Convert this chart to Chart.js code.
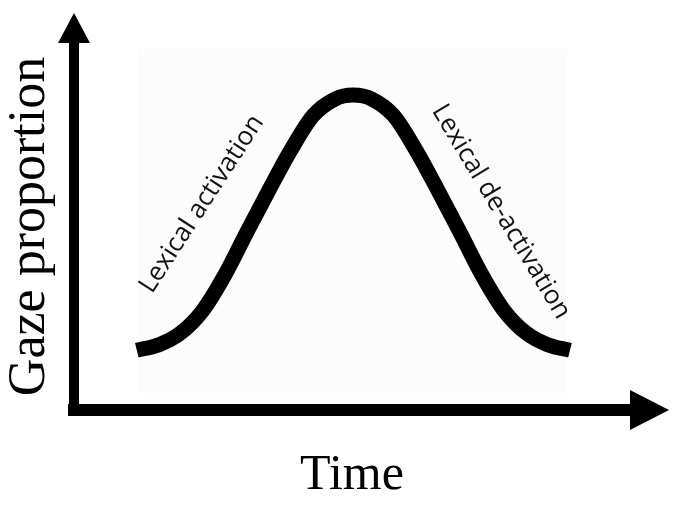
<!DOCTYPE html>
<html>
<head>
<meta charset="utf-8">
<script src="https://cdn.jsdelivr.net/npm/chart.js@4/dist/chart.umd.min.js"></script>
<style>
  body { margin: 0; background: #fff; }
</style>
</head>
<body>
<canvas id="gaze-chart" width="682" height="509"></canvas>
<script>
// curve (time in 0..100, gaze proportion in 0..1)
const times = [11.3, 15.3, 19.2, 23.2, 27.2, 31.1, 35.1, 39.0, 43.0, 46.9, 50.2,
               53.6, 57.5, 61.5, 65.4, 69.4, 73.3, 77.3, 81.3, 85.2, 89.2]
const gaze = [0.163, 0.178, 0.210, 0.272, 0.370, 0.485, 0.600, 0.708, 0.802, 0.847, 0.858,
              0.847, 0.802, 0.708, 0.600, 0.485, 0.370, 0.272, 0.210, 0.178, 0.163]

const phase_labels = ['Lexical activation', 'Lexical de-activation']
const phase_x = [23.0, 76.8]
const phase_y = [0.561, 0.540]
const phase_angle = [-57, 59]

const x_title = 'Time'
const y_title = 'Gaze proportion'

// faint panel behind the curve
const panelPlugin = {
    id: 'panel',
    beforeDatasetsDraw(chart) {
        const {ctx, scales: {x, y}} = chart
        const x0 = x.getPixelForValue(11.5), x1 = x.getPixelForValue(88.6)
        const y0 = y.getPixelForValue(0.984), y1 = y.getPixelForValue(0.046)
        ctx.save()
        ctx.fillStyle = '#fcfcfc'
        ctx.fillRect(x0, y0, x1 - x0, y1 - y0)
        ctx.restore()
    }
}

// arrow heads on the two axes + rotated phase labels
const arrowPlugin = {
    id: 'arrows',
    afterDraw(chart) {
        const {ctx, chartArea: {left, right, top, bottom}, scales: {x, y}} = chart
        ctx.save()
        ctx.fillStyle = '#000'
        // y axis head
        ctx.beginPath()
        ctx.moveTo(left - 16, top)
        ctx.lineTo(left + 16, top)
        ctx.lineTo(left, top - 30)
        ctx.closePath()
        ctx.fill()
        // x axis head
        ctx.beginPath()
        ctx.moveTo(right, bottom - 20)
        ctx.lineTo(right, bottom + 20)
        ctx.lineTo(right + 39, bottom)
        ctx.closePath()
        ctx.fill()
        // corner
        ctx.fillRect(left - 5, bottom - 6, 10, 12)

        ctx.font = '26px "Open Sans"'
        ctx.fillStyle = '#111'
        ctx.textAlign = 'center'
        ctx.textBaseline = 'middle'
        phase_labels.forEach((txt, i) => {
            ctx.save()
            ctx.translate(x.getPixelForValue(phase_x[i]), y.getPixelForValue(phase_y[i]))
            ctx.rotate(phase_angle[i] * Math.PI / 180)
            ctx.fillText(txt, 0, 0)
            ctx.restore()
        })
        ctx.restore()
    }
}

const ctx = document.getElementById('gaze-chart')
const gazeChart = new Chart(ctx, {
    type: 'line',
    data: {
        datasets: [{
            data: times.map((t, i) => ({x: t, y: gaze[i]})),
            borderColor: '#000',
            borderWidth: 15,
            pointRadius: 0,
            fill: false,
            cubicInterpolationMode: 'monotone'
        }]
    },
    options: {
        responsive: false,
        animation: false,
        devicePixelRatio: 1,
        layout: {
            autoPadding: false,
            padding: {left: 4, top: 43, right: 52, bottom: 0}
        },
        plugins: {
            legend: {display: false},
            tooltip: {enabled: false}
        },
        scales: {
            x: {
                type: 'linear',
                min: 0,
                max: 100,
                ticks: {display: false},
                grid: {display: false, drawTicks: false},
                border: {display: true, width: 12, color: '#000'},
                title: {
                    display: true,
                    text: x_title,
                    color: '#000',
                    font: {family: '"Liberation Serif", serif', size: 50, lineHeight: 1},
                    padding: {top: 41, bottom: 8}
                }
            },
            y: {
                min: 0,
                max: 1,
                ticks: {display: false},
                grid: {display: false, drawTicks: false},
                border: {display: true, width: 10, color: '#000'},
                title: {
                    display: true,
                    text: y_title,
                    color: '#000',
                    font: {family: '"Liberation Serif", serif', size: 52, lineHeight: 1},
                    padding: {top: 0, bottom: 18}
                }
            }
        }
    },
    plugins: [panelPlugin, arrowPlugin]
})
</script>
</body>
</html>
